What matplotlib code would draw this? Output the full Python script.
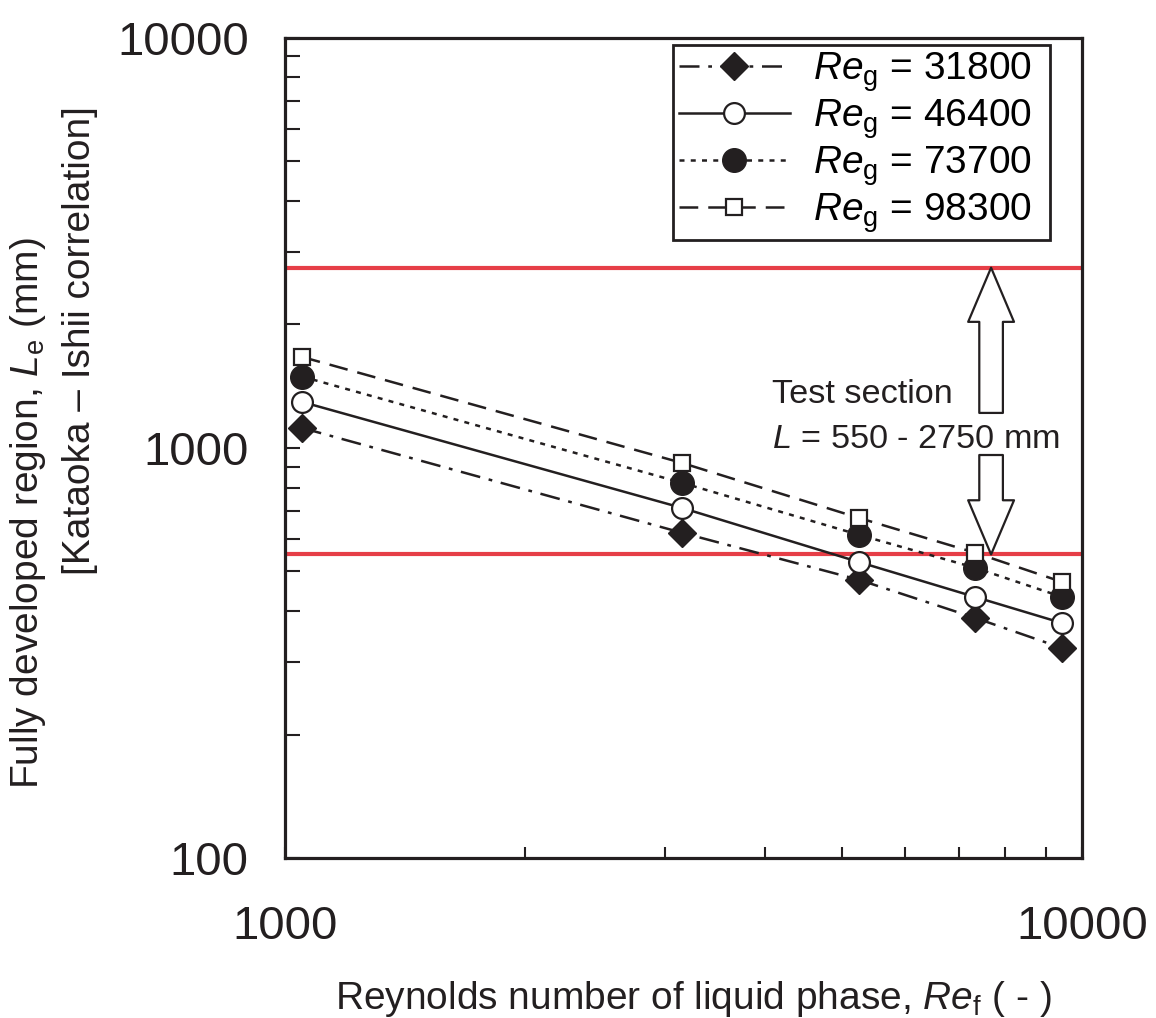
import numpy as np
import matplotlib
matplotlib.use('Agg')
from matplotlib import pyplot as plt
from matplotlib.ticker import LogLocator, NullFormatter

plt.rcParams['font.family'] = ['Liberation Sans', 'DejaVu Sans']
plt.rcParams['mathtext.fontset'] = 'custom'
plt.rcParams['mathtext.rm'] = 'Liberation Sans'
plt.rcParams['mathtext.it'] = 'Liberation Sans:italic'

# liquid Reynolds number
re_f = [1050, 3150, 5250, 7350, 9450]

# entrance length Le (mm), one list per gas Reynolds number
le_31800 = [1119, 621, 477, 385, 325]
le_46400 = [1295, 714, 527, 433, 374]
le_73700 = [1493, 822, 614, 510, 433]
le_98300 = [1667, 919, 675, 555, 471]

re_g_labels = ['31800', '46400', '73700', '98300']

# test section limits (mm)
l_min = 550
l_max = 2750

black = '#231f20'
red = '#e63e47'

fig = plt.figure(figsize=(11.56, 10.18), dpi=100)
ax = fig.add_axes([0.2465, 0.157, 0.6895, 0.806])

ax.axhline(l_max, color=red, lw=3, zorder=1)
ax.axhline(l_min, color=red, lw=3, zorder=1)

lw = 1.8
ax.plot(re_f, le_31800, color=black, lw=lw, ls=(0, (8, 3.5, 1.5, 3.5)),
        marker='D', ms=14, mfc=black, mec=black,
        label=r'$\it{Re}_{\rm g}$ = ' + re_g_labels[0] + '  ')
ax.plot(re_f, le_46400, color=black, lw=lw, ls='-',
        marker='o', ms=15, mfc='white', mec=black, mew=1.6,
        label=r'$\it{Re}_{\rm g}$ = ' + re_g_labels[1] + '  ')
ax.plot(re_f, le_73700, color=black, lw=lw, ls=(0, (2, 2.5)),
        marker='o', ms=17, mfc=black, mec=black,
        label=r'$\it{Re}_{\rm g}$ = ' + re_g_labels[2] + '  ')
ax.plot(re_f, le_98300, color=black, lw=lw, ls=(0, (7.5, 4)),
        marker='s', ms=12, mfc='white', mec=black, mew=1.6,
        label=r'$\it{Re}_{\rm g}$ = ' + re_g_labels[3] + '  ')

ax.set_xscale('log')
ax.set_yscale('log')
ax.set_xlim(1000, 10000)
ax.set_ylim(100, 10000)

ax.set_xticks([1000, 10000], ['1000', '10000'])
ax.set_yticks([100, 1000, 10000], ['100', '1000', '10000'])
ax.xaxis.set_minor_locator(LogLocator(base=10, subs=np.arange(2, 10)))
ax.yaxis.set_minor_locator(LogLocator(base=10, subs=np.arange(2, 10)))
ax.xaxis.set_minor_formatter(NullFormatter())
ax.yaxis.set_minor_formatter(NullFormatter())

ax.tick_params(axis='x', which='both', direction='in', length=8, width=1.5,
               labelsize=34, pad=34, colors=black)
ax.tick_params(axis='y', which='both', direction='in', length=11, width=1.5,
               labelsize=34, pad=26, colors=black)
for s in ax.spines.values():
    s.set_linewidth(2.3)
    s.set_color(black)

leg = ax.legend(loc='upper right', bbox_to_anchor=(0.960, 0.9915),
                borderaxespad=0, fontsize=28, handlelength=2.85,
                handletextpad=0.6, labelspacing=0.08, borderpad=0.15,
                fancybox=False, edgecolor=black, framealpha=1)
leg.get_frame().set_linewidth(2)

# double arrow showing the test section range
arrow_x = 7690
arr = dict(arrowstyle='simple,head_length=39,head_width=33,tail_width=17',
           mutation_scale=1, fc='white', ec=black, lw=1.6,
           shrinkA=0, shrinkB=0)
ax.annotate('', xy=(arrow_x, l_max), xytext=(arrow_x, 1217), arrowprops=arr)
ax.annotate('', xy=(arrow_x, l_min), xytext=(arrow_x, 961), arrowprops=arr)

ax.text(0.611, 0.555, 'Test section', transform=ax.transAxes,
        fontsize=24.7, color=black, va='baseline', ha='left')
ax.text(0.611, 0.500, r'$\it{L}$ = 550 - 2750 mm', transform=ax.transAxes,
        fontsize=24.7, color=black, va='baseline', ha='left')

fig.text(693 / 1156, 9 / 1018, r'Reynolds number of liquid phase, $\it{Re}_{\rm f}$ ( - )',
         fontsize=28, color=black, ha='center', va='baseline')
fig.text(28 / 1156, 1 - 513 / 1018, r'Fully developed region, $\it{L}_{\rm e}$ (mm)',
         fontsize=28, color=black, ha='center', va='center', rotation=90)
fig.text(80 / 1156, 1 - 341 / 1018, '[Kataoka \u2013 Ishii correlation]',
         fontsize=28, color=black, ha='center', va='center', rotation=90)

fig.savefig('out.png', dpi=100)
